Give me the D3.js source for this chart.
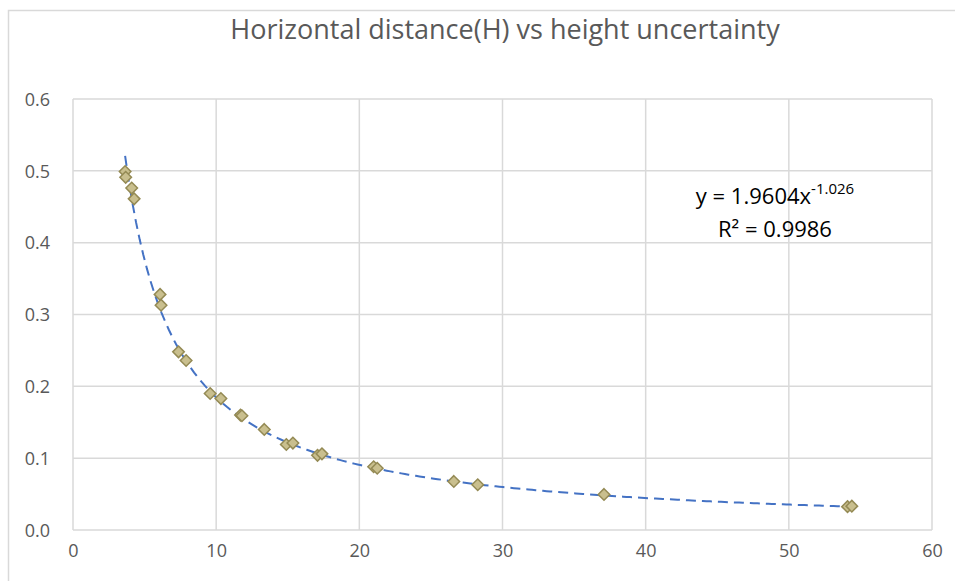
<!DOCTYPE html>
<html>
<head>
<meta charset="utf-8">
<script src="https://cdn.jsdelivr.net/npm/d3@7"></script>
<style>
  body { margin: 0; background: #fff; }
  text { font-family: "Open Sans", sans-serif; fill: #595959; }
</style>
</head>
<body>
<div id="container"></div>
<script>
// horizontal distance (H) of each measurement
const distances = [3.64, 3.68, 4.10, 4.27, 6.08, 6.15, 7.37, 7.90, 9.58, 10.33, 11.7, 11.8,
                   13.36, 14.9, 15.36, 17.08, 17.39, 21.0, 21.25, 26.6, 28.27, 37.09, 54.1, 54.4];
// height uncertainty for each distance
const uncertainties = [0.499, 0.491, 0.476, 0.461, 0.328, 0.313, 0.248, 0.236, 0.190, 0.183, 0.160, 0.159,
                       0.140, 0.119, 0.121, 0.104, 0.106, 0.088, 0.086, 0.0676, 0.063, 0.0495, 0.0325, 0.0332];
const xTicks = [0, 10, 20, 30, 40, 50, 60];
const yTicks = [0, 0.1, 0.2, 0.3, 0.4, 0.5, 0.6];
// power trendline coefficients as shown on the chart
const trendA = 1.9604;
const trendB = -1.026;
const rSquared = 0.9986;

const width = 955;
const height = 581;
const margin = {left: 73, right: 23, top: 99, bottom: 51};

const xScale = d3.scaleLinear()
    .domain([0, 60])
    .range([margin.left, width - margin.right]);

const yScale = d3.scaleLinear()
    .domain([0, 0.6])
    .range([height - margin.bottom, margin.top]);

const svg = d3.select("#container")
    .append("svg")
    .attr("width", width)
    .attr("height", height);

//outer chart border
svg.append("rect")
    .attr("x", 8.5)
    .attr("y", 10.5)
    .attr("width", width)
    .attr("height", height)
    .attr("fill", "none")
    .attr("stroke", "#d9d9d9")
    .attr("stroke-width", 1.5);

//title
svg.append("text")
    .attr("x", 505)
    .attr("y", 39)
    .attr("text-anchor", "middle")
    .style("font-size", "27px")
    .text("Horizontal distance(H) vs height uncertainty");

//gridlines
const grid = svg.append("g");
xTicks.forEach(t => {
    grid.append("line")
        .attr("x1", xScale(t)).attr("x2", xScale(t))
        .attr("y1", yScale(0)).attr("y2", yScale(0.6))
        .attr("stroke", "#d9d9d9")
        .attr("stroke-width", 1.5);
});
yTicks.forEach(t => {
    grid.append("line")
        .attr("x1", xScale(0)).attr("x2", xScale(60))
        .attr("y1", yScale(t)).attr("y2", yScale(t))
        .attr("stroke", "#d9d9d9")
        .attr("stroke-width", 1.5);
});

//axes, labels only
const xAxis = svg.append("g")
    .attr("transform", `translate(0,${yScale(0) + 11})`)
    .call(d3.axisBottom(xScale).tickValues(xTicks).tickSize(0).tickFormat(d3.format("d")));
const yAxis = svg.append("g")
    .attr("transform", `translate(${xScale(0) - 20},0)`)
    .call(d3.axisLeft(yScale).tickValues(yTicks).tickSize(0).tickFormat(d3.format(".1f")));
[xAxis, yAxis].forEach(a => {
    a.select(".domain").remove();
    a.selectAll("text").style("font-size", "18px").attr("fill", "#595959");
});
xAxis.selectAll("text").attr("dy", "0.71em");
yAxis.selectAll("text").attr("dy", "0.35em");

//power trendline across the data range
const xMin = d3.min(distances);
const xMax = d3.max(distances);
const trend = d3.range(0, 201).map(i => {
    const x = xMin + (xMax - xMin) * i / 200;
    return [x, trendA * Math.pow(x, trendB)];
});
svg.append("path")
    .datum(trend)
    .attr("d", d3.line().x(d => xScale(d[0])).y(d => yScale(d[1])))
    .attr("fill", "none")
    .attr("stroke", "#4472c4")
    .attr("stroke-width", 2)
    .attr("stroke-dasharray", "10,6");

//diamond markers
const diamond = d3.symbol().type(d3.symbolDiamond2).size(85);
distances.forEach((d, i) => {
    svg.append("path")
        .attr("d", diamond())
        .attr("transform", `translate(${xScale(d)},${yScale(uncertainties[i])})`)
        .attr("fill", "#c9bf8e")
        .attr("stroke", "#948a54")
        .attr("stroke-width", 1.5);
});

//equation label
const eq = svg.append("text")
    .attr("x", 775)
    .attr("y", 204)
    .attr("text-anchor", "middle")
    .style("font-size", "22px")
    .style("fill", "#000");
eq.append("tspan").text(`y = ${trendA}x`);
eq.append("tspan").attr("dy", -10).style("font-size", "15px").text(trendB.toFixed(3));
svg.append("text")
    .attr("x", 775)
    .attr("y", 237)
    .attr("text-anchor", "middle")
    .style("font-size", "22px")
    .style("fill", "#000")
    .text(`R² = ${rSquared}`);
</script>
</body>
</html>
